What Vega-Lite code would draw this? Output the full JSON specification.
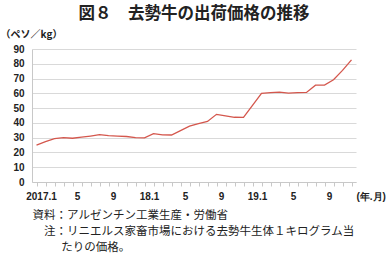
{
  "$schema": "https://vega.github.io/schema/vega-lite/v6.json",
  "width": 324,
  "height": 133,
  "autosize": {"type": "none"},
  "padding": {"left": 32, "top": 49, "right": 30, "bottom": 76},
  "background": "white",
  "title": {
    "text": "図８　去勢牛の出荷価格の推移",
    "font": "Noto Sans CJK JP",
    "fontSize": 16.5,
    "fontWeight": "bold",
    "color": "#222222",
    "anchor": "middle",
    "frame": "group",
    "offset": 7
  },
  "data": {
    "values": [
      {"month": "2017.1", "price": 25.0},
      {"month": "2017.2", "price": 27.3},
      {"month": "2017.3", "price": 29.4},
      {"month": "2017.4", "price": 30.0},
      {"month": "2017.5", "price": 29.6},
      {"month": "2017.6", "price": 30.3},
      {"month": "2017.7", "price": 31.1},
      {"month": "2017.8", "price": 32.0},
      {"month": "2017.9", "price": 31.4},
      {"month": "2017.10", "price": 31.1},
      {"month": "2017.11", "price": 30.8},
      {"month": "2017.12", "price": 30.0},
      {"month": "2018.1", "price": 29.9},
      {"month": "2018.2", "price": 32.7},
      {"month": "2018.3", "price": 31.9},
      {"month": "2018.4", "price": 31.8},
      {"month": "2018.5", "price": 34.8},
      {"month": "2018.6", "price": 37.8},
      {"month": "2018.7", "price": 39.5},
      {"month": "2018.8", "price": 41.0},
      {"month": "2018.9", "price": 45.8},
      {"month": "2018.10", "price": 44.8},
      {"month": "2018.11", "price": 43.8},
      {"month": "2018.12", "price": 43.7},
      {"month": "2019.1", "price": 51.8},
      {"month": "2019.2", "price": 60.0},
      {"month": "2019.3", "price": 60.5},
      {"month": "2019.4", "price": 60.8},
      {"month": "2019.5", "price": 60.2},
      {"month": "2019.6", "price": 60.5},
      {"month": "2019.7", "price": 60.6},
      {"month": "2019.8", "price": 65.5},
      {"month": "2019.9", "price": 65.6},
      {"month": "2019.10", "price": 69.2},
      {"month": "2019.11", "price": 75.5},
      {"month": "2019.12", "price": 82.6}
    ]
  },
  "mark": {"type": "line", "color": "#d4574d", "strokeWidth": 1.3},
  "encoding": {
    "x": {
      "field": "month",
      "type": "ordinal",
      "sort": null,
      "scale": {"paddingInner": 0, "paddingOuter": 0},
      "axis": {
        "bandPosition": 0,
        "labelOffset": 4.5,
        "labelAngle": 0,
        "labelExpr": "datum.value == '2019.12' ? '(年.月)' : (split(datum.value,'.')[1] == '1' ? (datum.value == '2017.1' ? '2017.1' : slice(datum.value, 2)) : (indexof(['5','9'], split(datum.value,'.')[1]) >= 0 ? split(datum.value,'.')[1] : ''))",
        "labelAlign": {"condition": {"test": "datum.value == '2019.12'", "value": "left"}, "value": "center"},
        "labelFont": "Liberation Sans",
        "labelFontSize": 10,
        "labelFontWeight": "bold",
        "labelColor": "#222222",
        "labelPadding": 5,
        "labelOverlap": false,
        "labelBound": false,
        "labelFlush": false,
        "tickSize": 4,
        "tickColor": "#c8c8c8",
        "domainColor": "#c8c8c8",
        "grid": false,
        "title": ["資料：アルゼンチン工業生産・労働省", "\u200b　注：リニエルス家畜市場における去勢牛生体１キログラム当", "\u200b　　\u2002たりの価格。"],
        "titleFont": "Noto Sans CJK JP",
        "titleFontSize": 11.5,
        "titleFontWeight": "normal",
        "titleColor": "#222222",
        "titleAlign": "left",
        "titleAnchor": "start",
        "titleBaseline": "middle",
        "titleLineHeight": 16,
        "titleX": 0,
        "titleY": 33
      }
    },
    "y": {
      "field": "price",
      "type": "quantitative",
      "scale": {"domain": [0, 90], "nice": false, "zero": true},
      "axis": {
        "values": [0, 10, 20, 30, 40, 50, 60, 70, 80, 90],
        "labelFont": "Liberation Sans",
        "labelFontSize": 10,
        "labelFontWeight": "bold",
        "labelColor": "#222222",
        "labelPadding": 8,
        "ticks": false,
        "domainColor": "#c8c8c8",
        "gridColor": "#d9d9d9",
        "title": "（ペソ／kg）",
        "titleFont": "Noto Sans CJK JP",
        "titleFontSize": 10,
        "titleFontWeight": "bold",
        "titleColor": "#222222",
        "titleAngle": 0,
        "titleAlign": "left",
        "titleBaseline": "middle",
        "titleX": -32,
        "titleY": -15
      }
    }
  },
  "config": {"view": {"stroke": null}}
}
